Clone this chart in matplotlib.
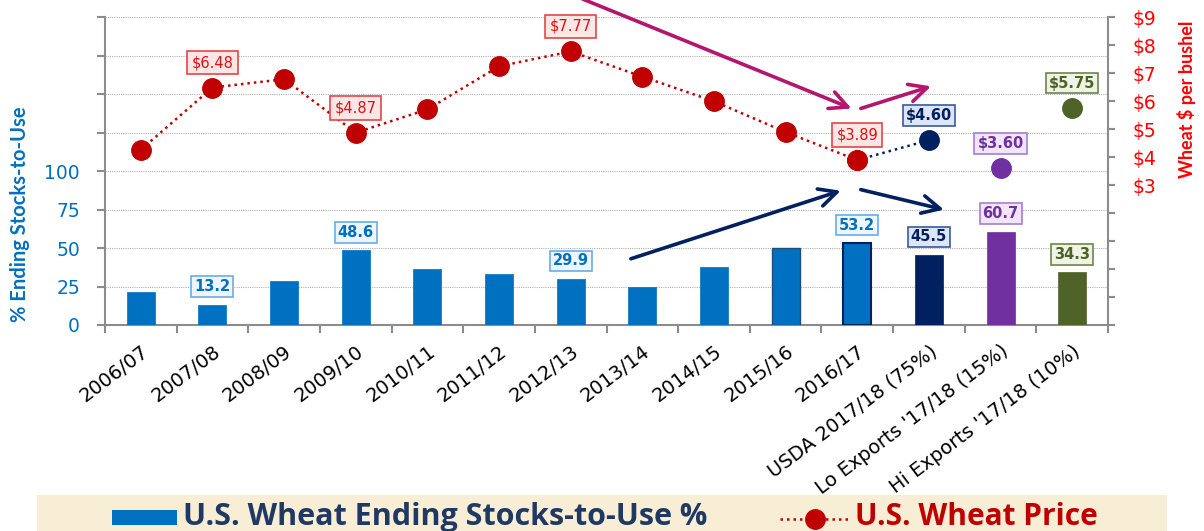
import matplotlib
matplotlib.use("Agg")
import matplotlib.pyplot as plt
from matplotlib.patches import Rectangle
from matplotlib.lines import Line2D

# ---------------- data ----------------
categories = ['2006/07', '2007/08', '2008/09', '2009/10', '2010/11', '2011/12',
              '2012/13', '2013/14', '2014/15', '2015/16', '2016/17',
              'USDA 2017/18 (75%)', "Lo Exports '17/18 (15%)", "Hi Exports '17/18 (10%)"]
stocks = [21.7, 13.2, 28.6, 48.6, 36.3, 33.0, 29.9, 24.5, 37.6, 49.9, 53.2, 45.5, 60.7, 34.3]
prices = [4.26, 6.48, 6.78, 4.87, 5.70, 7.24, 7.77, 6.87, 5.99, 4.89, 3.89, 4.60, 3.60, 5.75]
labelled = [1, 3, 6, 10, 11, 12, 13]
left_ticklabels = ['0', '25', '50', '75', '100']
right_ticklabels = ['$3', '$4', '$5', '$6', '$7', '$8', '$9']

BLUE = '#0070C0'
NAVY = '#002060'
PURPLE = '#7030A0'
OLIVE = '#4F6228'
RED = '#C00000'
MAGENTA = '#B4166E'

bar_colors = [BLUE] * 11 + [NAVY, PURPLE, OLIVE]
bar_edges = [BLUE] * 9 + ['#1F4E79', NAVY, NAVY, PURPLE, OLIVE]
bar_edge_w = [0.5] * 9 + [1.0, 1.5, 0.5, 0.5, 0.5]

# label styles: (text color, face, edge, weight)
hist_price_style = ('#E01010', '#FDE6E6', '#E04848', 'normal')
hist_bar_style = (BLUE, '#EEF5FC', '#6AAEE6', 'bold')
proj_styles = {11: (NAVY, '#DCE6F7', '#3A5A9A', 'bold'),
               12: (PURPLE, '#F0E6F8', '#A57FD0', 'bold'),
               13: (OLIVE, '#EFF3E6', '#6F8447', 'bold')}

W, H = 1204, 531
fig = plt.figure(figsize=(W / 100, H / 100), dpi=100)
ax = fig.add_axes([105 / W, (H - 325) / H, (1108 - 105) / W, (325 - 17) / H])
ax2 = ax.twinx()

x = list(range(len(categories)))

# bars
ax.bar(x, stocks, width=0.39, color=bar_colors, edgecolor=bar_edges,
       linewidth=bar_edge_w, zorder=3)

ax.set_xlim(-0.5, len(categories) - 0.5)
ax.set_ylim(0, 200)
ax.set_yticks(range(0, 201, 25))
ax.set_yticklabels(left_ticklabels + [''] * 4)
ax.grid(axis='y', color='#B0B0B0', linestyle=(0, (1, 1)), linewidth=0.8, zorder=0)
ax.set_axisbelow(True)

# price line
dotted = (0, (1, 1.6))
ax2.plot(x[:11], prices[:11], color=RED, linestyle=dotted, linewidth=1.8,
         marker='o', markersize=14, zorder=4)
ax2.plot(x[10:12], prices[10:12], color=NAVY, linestyle=dotted, linewidth=1.8, zorder=3)
ax2.plot([x[10]], [prices[10]], 'o', color=RED, markersize=14, zorder=5)
for i, c in zip([11, 12, 13], [NAVY, PURPLE, OLIVE]):
    ax2.plot([x[i]], [prices[i]], 'o', color=c, markersize=14, zorder=5)
ax2.set_ylim(-2, 9)
ax2.set_yticks(range(-2, 10))
ax2.set_yticklabels([''] * 5 + right_ticklabels)

# spines / ticks
for a in (ax, ax2):
    for s in a.spines.values():
        s.set_color('#8C8C8C')
        s.set_linewidth(1.5)
    a.spines['top'].set_visible(False)
ax.spines['right'].set_visible(False)
ax2.spines['left'].set_visible(False)
ax2.spines['bottom'].set_visible(False)

ax.tick_params(axis='y', colors='#8C8C8C', length=6, width=1.5, pad=12,
               labelcolor=BLUE, labelsize=13.5)
ax2.tick_params(axis='y', colors='#8C8C8C', length=5, width=1.5, pad=13,
                labelcolor='#FF0000', labelsize=13.5)
ax.set_xticks(x)
ax.set_xticks([i - 0.5 for i in range(len(categories) + 1)], minor=True)
ax.tick_params(axis='x', which='major', length=0, pad=12)
ax.tick_params(axis='x', which='minor', length=6, width=1.5, color='#8C8C8C')
ax.set_xticklabels(categories, rotation=37, ha='right', va='top',
                   rotation_mode='anchor', fontsize=14, color='black')
for lab in ax.get_yticklabels() + ax2.get_yticklabels():
    lab.set_fontfamily('DejaVu Sans')

lato = ['Lato', 'DejaVu Sans']
fig.text(20 / W, 1 - 214 / H, '% Ending Stocks-to-Use', rotation=90, ha='center',
         va='center', color=BLUE, fontsize=14.5, fontweight='bold', family=lato)
fig.text(1187 / W, 1 - 99 / H, 'Wheat $ per bushel', rotation=90, ha='center',
         va='center', color='#FF0000', fontsize=13, fontweight='bold', family=lato)

# data labels
for i in labelled:
    if i in proj_styles:
        ps = bs = proj_styles[i]
    else:
        ps, bs = hist_price_style, hist_bar_style
    tc, fc, ec, fw = ps
    ax2.annotate(f'${prices[i]:.2f}', (x[i], prices[i]), xytext=(0, 25),
                 textcoords='offset pixels', ha='center', va='center',
                 color=tc, fontsize=10.5, fontweight=fw,
                 bbox=dict(boxstyle='square,pad=0.3' if fw == 'normal' else 'square,pad=0.2',
                           fc=fc, ec=ec, lw=1.2), zorder=6)
    tc, fc, ec, fw = bs
    ax.annotate(f'{stocks[i]:.1f}', (x[i], stocks[i]), xytext=(0, 18),
                textcoords='offset pixels', ha='center', va='center',
                color=tc, fontsize=10.5, fontweight=fw,
                bbox=dict(boxstyle='square,pad=0.2', fc=fc, ec=ec, lw=1.2), zorder=6)

# arrows (annotation shapes, in left-axis data coords: start -> tip)
arrows = [((6.17, 211.6), (9.92, 140.6), MAGENTA),
          ((10.05, 140.6), (11.03, 155.0), MAGENTA),
          ((6.84, 43.0), (9.77, 87.2), NAVY),
          ((10.05, 87.9), (11.21, 74.9), NAVY)]
for start, tip, col in arrows:
    ax.annotate('', xy=tip, xytext=start, annotation_clip=False,
                arrowprops=dict(arrowstyle='->', color=col, lw=2.6,
                                mutation_scale=32, shrinkA=0, shrinkB=0),
                zorder=7)

# legend band
fig.patches.append(Rectangle((37 / W, 0), (1167 - 37) / W, 36 / H,
                             transform=fig.transFigure, fc='#F8EDD5', ec='none'))
fig.patches.append(Rectangle((112 / W, (H - 525) / H), 65 / W, 15 / H,
                             transform=fig.transFigure, fc=BLUE, ec='none'))
fig.text(183 / W, (H - 517) / H, 'U.S. Wheat Ending Stocks-to-Use %', ha='left',
         va='center', color='#1F3864', fontsize=22, fontweight='bold',
         family=['Open Sans', 'DejaVu Sans'])
fig.lines.append(Line2D([780 / W, 848 / W], [(H - 519) / H] * 2, transform=fig.transFigure,
                        color=RED, linestyle=dotted, linewidth=1.8))
fig.lines.append(Line2D([815 / W], [(H - 519) / H], transform=fig.transFigure,
                        color=RED, marker='o', markersize=14))
fig.text(855 / W, (H - 517) / H, 'U.S. Wheat Price', ha='left', va='center',
         color=RED, fontsize=21.5, fontweight='bold', family=['Open Sans', 'DejaVu Sans'])

fig.savefig('out.png', dpi=100)
